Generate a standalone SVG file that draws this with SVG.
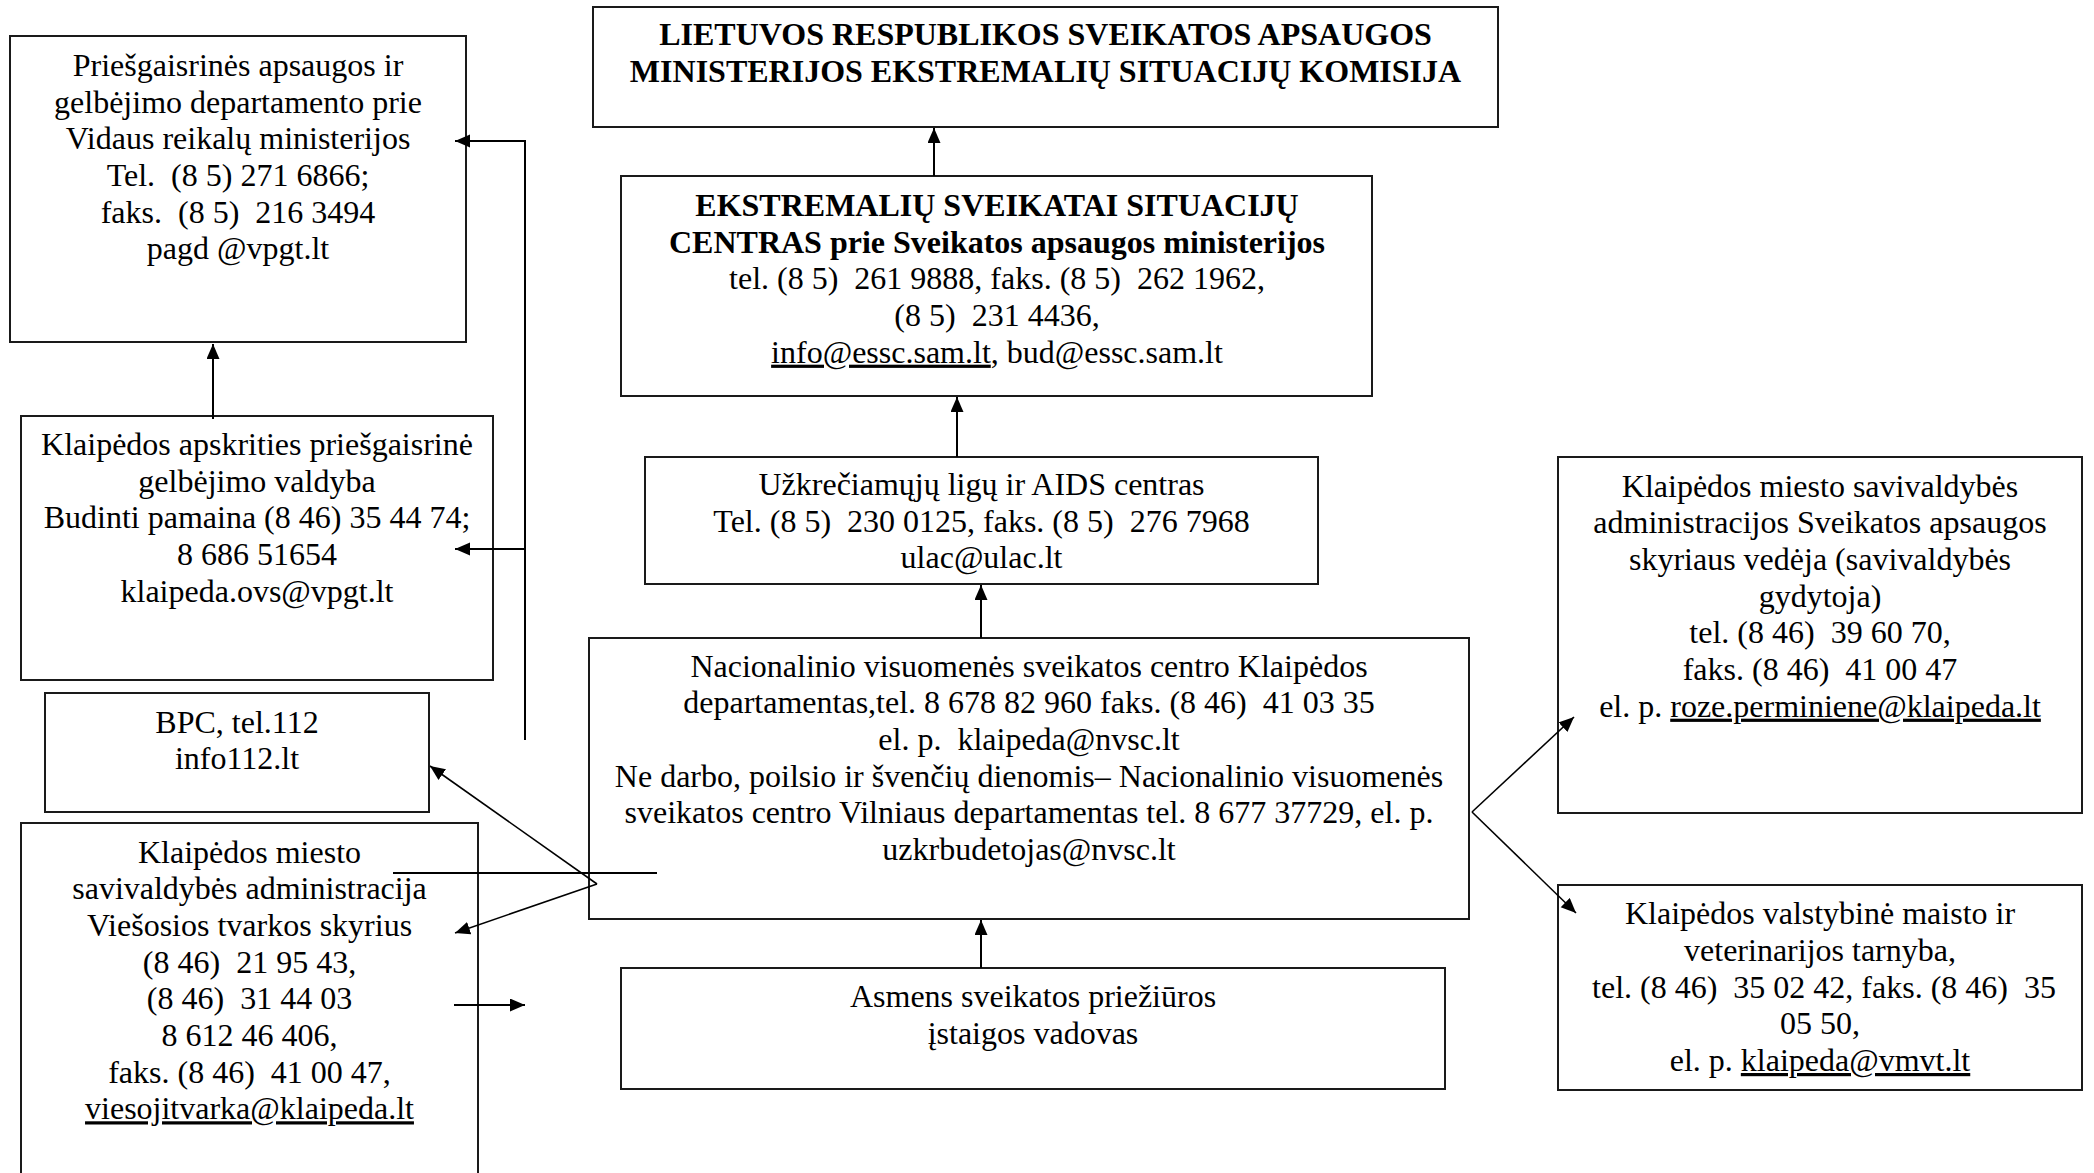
<svg xmlns="http://www.w3.org/2000/svg" width="2094" height="1173" viewBox="0 0 2094 1173">
<style>
  .box { fill: #fff; stroke: #1a1a1a; stroke-width: 2; }
  .t { font-family: "Liberation Serif", "Times New Roman", serif; font-size: 32px; fill: #000; text-anchor: middle; white-space: pre; }
  .b { font-weight: bold; }
  .u { text-decoration: underline; }
  .c { stroke: #000; stroke-width: 2; fill: none; }
  .d { stroke: #000; stroke-width: 1.6; fill: none; }
</style>
<defs>
  <marker id="ah" markerUnits="userSpaceOnUse" markerWidth="16" markerHeight="14" refX="15" refY="6.5" orient="auto">
    <path d="M0,0 L15,6.5 L0,13 z" fill="#000"/>
  </marker>
</defs>
<rect width="2094" height="1173" fill="#fff"/>

<g id="n-komisija">
  <rect class="box" x="593" y="7" width="905" height="120"/>
  <text class="t b" x="1045.5" y="45" xml:space="preserve">LIETUVOS RESPUBLIKOS SVEIKATOS APSAUGOS</text>
  <text class="t b" x="1045.5" y="81.7" xml:space="preserve">MINISTERIJOS EKSTREMALIŲ SITUACIJŲ KOMISIJA</text>
</g>

<g id="n-essc">
  <rect class="box" x="621" y="176" width="751" height="220"/>
  <text class="t b" x="997" y="216" xml:space="preserve">EKSTREMALIŲ SVEIKATAI SITUACIJŲ</text>
  <text class="t b" x="997" y="252.7" xml:space="preserve">CENTRAS prie Sveikatos apsaugos ministerijos</text>
  <text class="t" x="997" y="289.3" xml:space="preserve">tel. (8 5)  261 9888, faks. (8 5)  262 1962,</text>
  <text class="t" x="997" y="326" xml:space="preserve">(8 5)  231 4436,</text>
  <text class="t" x="997" y="362.7" xml:space="preserve"><tspan class="u">info@essc.sam.lt</tspan>, bud@essc.sam.lt</text>
</g>

<g id="n-ulac">
  <rect class="box" x="645" y="457" width="673" height="127"/>
  <text class="t" x="981.5" y="495" xml:space="preserve">Užkrečiamųjų ligų ir AIDS centras</text>
  <text class="t" x="981.5" y="531.7" xml:space="preserve">Tel. (8 5)  230 0125, faks. (8 5)  276 7968</text>
  <text class="t" x="981.5" y="568.3" xml:space="preserve">ulac@ulac.lt</text>
</g>

<g id="n-nvsc">
  <rect class="box" x="589" y="638" width="880" height="281"/>
  <text class="t" x="1029" y="676.7" xml:space="preserve">Nacionalinio visuomenės sveikatos centro Klaipėdos</text>
  <text class="t" x="1029" y="713.3" xml:space="preserve">departamentas,tel. 8 678 82 960 faks. (8 46)  41 03 35</text>
  <text class="t" x="1029" y="750" xml:space="preserve">el. p.  klaipeda@nvsc.lt</text>
  <text class="t" x="1029" y="786.7" xml:space="preserve">Ne darbo, poilsio ir švenčių dienomis– Nacionalinio visuomenės</text>
  <text class="t" x="1029" y="823.3" xml:space="preserve">sveikatos centro Vilniaus departamentas tel. 8 677 37729, el. p.</text>
  <text class="t" x="1029" y="860" xml:space="preserve">uzkrbudetojas@nvsc.lt</text>
</g>

<g id="n-asmens">
  <rect class="box" x="621" y="968" width="824" height="121"/>
  <text class="t" x="1033" y="1007.3" xml:space="preserve">Asmens sveikatos priežiūros</text>
  <text class="t" x="1033" y="1044" xml:space="preserve">įstaigos vadovas</text>
</g>

<g id="n-pagd">
  <rect class="box" x="10" y="36" width="456" height="306"/>
  <text class="t" x="238" y="76" xml:space="preserve">Priešgaisrinės apsaugos ir</text>
  <text class="t" x="238" y="112.7" xml:space="preserve">gelbėjimo departamento prie</text>
  <text class="t" x="238" y="149.3" xml:space="preserve">Vidaus reikalų ministerijos</text>
  <text class="t" x="238" y="186" xml:space="preserve">Tel.  (8 5) 271 6866;</text>
  <text class="t" x="238" y="222.7" xml:space="preserve">faks.  (8 5)  216 3494</text>
  <text class="t" x="238" y="259.3" xml:space="preserve">pagd @vpgt.lt</text>
</g>

<g id="n-kapgv">
  <rect class="box" x="21" y="416" width="472" height="264"/>
  <text class="t" x="257" y="455" xml:space="preserve">Klaipėdos apskrities priešgaisrinė</text>
  <text class="t" x="257" y="491.7" xml:space="preserve">gelbėjimo valdyba</text>
  <text class="t" x="257" y="528.3" xml:space="preserve">Budinti pamaina (8 46) 35 44 74;</text>
  <text class="t" x="257" y="565" xml:space="preserve">8 686 51654</text>
  <text class="t" x="257" y="601.7" xml:space="preserve">klaipeda.ovs@vpgt.lt</text>
</g>

<g id="n-bpc">
  <rect class="box" x="45" y="693" width="384" height="119"/>
  <text class="t" x="237" y="732.7" xml:space="preserve">BPC, tel.112</text>
  <text class="t" x="237" y="769.3" xml:space="preserve">info112.lt</text>
</g>

<g id="n-vts">
  <rect class="box" x="21" y="823" width="457" height="380"/>
  <text class="t" x="249.5" y="862.7" xml:space="preserve">Klaipėdos miesto</text>
  <text class="t" x="249.5" y="899.3" xml:space="preserve">savivaldybės administracija</text>
  <text class="t" x="249.5" y="936" xml:space="preserve">Viešosios tvarkos skyrius</text>
  <text class="t" x="249.5" y="972.7" xml:space="preserve">(8 46)  21 95 43,</text>
  <text class="t" x="249.5" y="1009.3" xml:space="preserve">(8 46)  31 44 03</text>
  <text class="t" x="249.5" y="1046" xml:space="preserve">8 612 46 406,</text>
  <text class="t" x="249.5" y="1082.7" xml:space="preserve">faks. (8 46)  41 00 47,</text>
  <text class="t" x="249.5" y="1119.3" xml:space="preserve"><tspan class="u">viesojitvarka@klaipeda.lt</tspan></text>
</g>

<g id="n-sav-gydytoja">
  <rect class="box" x="1558" y="457" width="524" height="356"/>
  <text class="t" x="1820" y="496.7" xml:space="preserve">Klaipėdos miesto savivaldybės</text>
  <text class="t" x="1820" y="533.3" xml:space="preserve">administracijos Sveikatos apsaugos</text>
  <text class="t" x="1820" y="570" xml:space="preserve">skyriaus vedėja (savivaldybės</text>
  <text class="t" x="1820" y="606.7" xml:space="preserve">gydytoja)</text>
  <text class="t" x="1820" y="643.3" xml:space="preserve">tel. (8 46)  39 60 70,</text>
  <text class="t" x="1820" y="680" xml:space="preserve">faks. (8 46)  41 00 47</text>
  <text class="t" x="1820" y="716.7" xml:space="preserve">el. p. <tspan class="u">roze.perminiene@klaipeda.lt</tspan></text>
</g>

<g id="n-vmvt">
  <rect class="box" x="1558" y="885" width="524" height="205"/>
  <text class="t" x="1820" y="924.3" xml:space="preserve">Klaipėdos valstybinė maisto ir</text>
  <text class="t" x="1820" y="961" xml:space="preserve">veterinarijos tarnyba,</text>
  <text class="t" x="1820" y="997.7" xml:space="preserve"> tel. (8 46)  35 02 42, faks. (8 46)  35</text>
  <text class="t" x="1820" y="1034.3" xml:space="preserve">05 50,</text>
  <text class="t" x="1820" y="1071" xml:space="preserve">el. p. <tspan class="u">klaipeda@vmvt.lt</tspan></text>
</g>

<g id="connectors">
  <line class="c" x1="934" y1="176" x2="934" y2="128" marker-end="url(#ah)"/>
  <line class="c" x1="957" y1="457" x2="957" y2="397" marker-end="url(#ah)"/>
  <line class="c" x1="981" y1="638" x2="981" y2="585" marker-end="url(#ah)"/>
  <line class="c" x1="981" y1="968" x2="981" y2="920" marker-end="url(#ah)"/>
  <line class="c" x1="213" y1="419" x2="213" y2="344" marker-end="url(#ah)"/>
  <line class="c" x1="525" y1="140" x2="525" y2="740"/>
  <line class="c" x1="526" y1="141" x2="455" y2="141" marker-end="url(#ah)"/>
  <line class="c" x1="525" y1="549" x2="455" y2="549" marker-end="url(#ah)"/>
  <line class="d" x1="1472" y1="812" x2="1574" y2="717" marker-end="url(#ah)"/>
  <line class="d" x1="1472" y1="812" x2="1576" y2="913" marker-end="url(#ah)"/>
  <line class="d" x1="597" y1="884" x2="430" y2="766" marker-end="url(#ah)"/>
  <line class="d" x1="597" y1="884" x2="455" y2="933" marker-end="url(#ah)"/>
  <line class="c" x1="393" y1="873" x2="657" y2="873"/>
  <line class="c" x1="454" y1="1005" x2="525" y2="1005" marker-end="url(#ah)"/>
</g>
</svg>
